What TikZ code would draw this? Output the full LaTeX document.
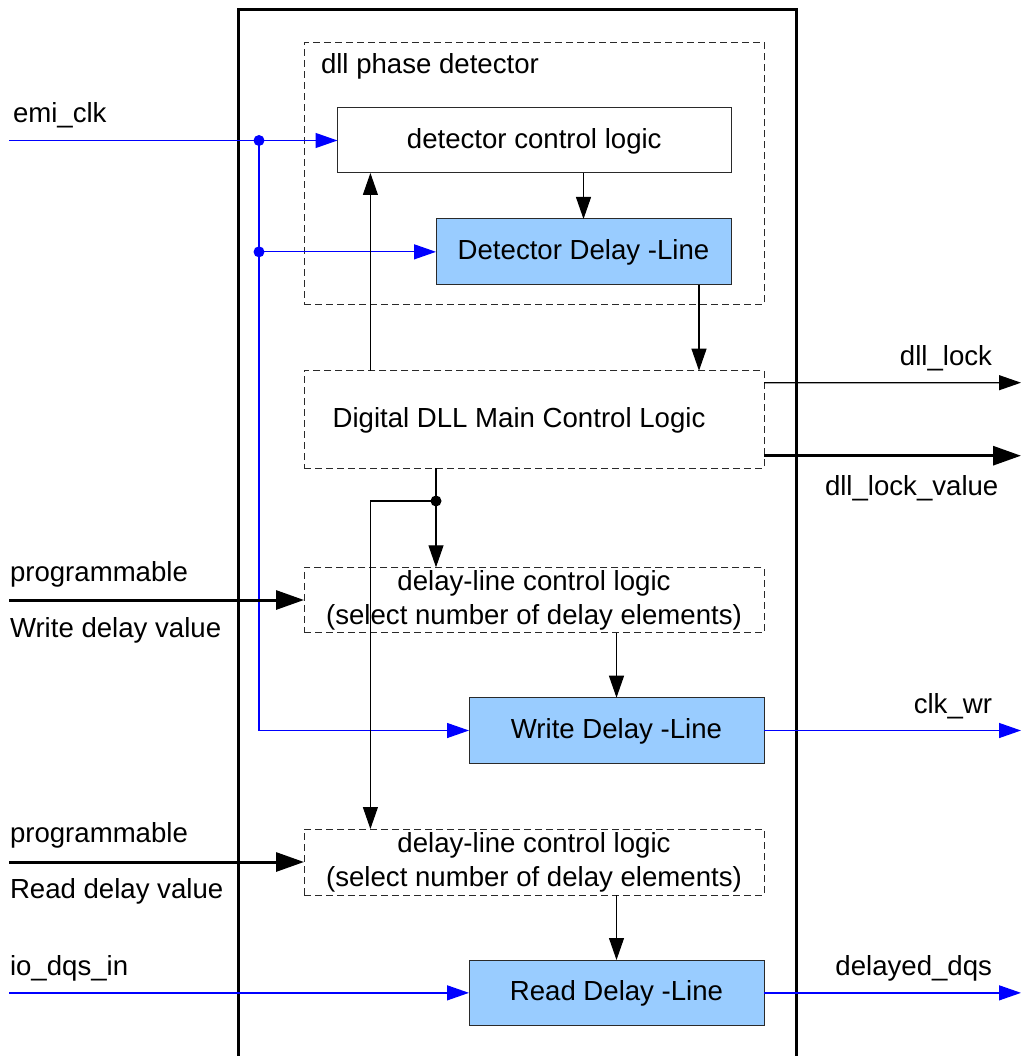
\documentclass[tikz,border=0pt]{standalone}
\usepackage{fontspec}
\setmainfont{Liberation Sans}
\usetikzlibrary{arrows.meta,calc}
\definecolor{lblue}{HTML}{99CCFF}
\definecolor{bdr}{HTML}{2A2A2A}
\begin{document}
\begin{tikzpicture}[x=1pt,y=-1pt,
  txt/.style={font=\fontsize{27.6pt}{34pt}\selectfont, inner sep=0pt, outer sep=0pt},
  box/.style={draw=bdr, line width=1pt, rectangle, inner sep=0pt, outer sep=0pt, txt},
  onebox/.style={box, text height=20pt, text depth=4pt},
  dbox/.style={box, dash pattern=on 7pt off 4pt},
  bbox/.style={onebox, fill=lblue},
  wire/.style={line width=1.1pt},
  bwire/.style={blue, line width=1.3pt},
  twire/.style={line width=3pt},
  tip/.style={-{Triangle[length=22pt,width=15pt]}},
  ttip/.style={-{Triangle[length=28pt,width=19pt]}},
  dot/.style={circle, fill, inner sep=0pt, minimum size=11pt}]
\useasboundingbox (0,0) rectangle (1021,1056);

% outer chip boundary
\draw[line width=3pt] (238,1060) -- (238,10) -- (796,10) -- (796,1060);

% boxes
\node[dbox, minimum width=460pt, minimum height=261.6pt] (pd) at (534,173.5) {};
\node[txt, anchor=base west] (pdlabel) at (321,74) {dll phase detector};
\node[onebox, fill=white, minimum width=393.5pt, minimum height=65pt] (dcl) at (534.25,140.5) {detector control logic};
\node[bbox, minimum width=295pt, minimum height=65.7pt] (ddl) at (583.5,251.85) {Detector Delay -Line};
\node[dbox, minimum width=460pt, minimum height=97.3pt] (main) at (534,419.35) {};
\node[txt, anchor=base] (maintxt) at (519,427) {Digital DLL Main Control Logic};
\node[dbox, minimum width=460pt, minimum height=65.4pt, align=center] (dlc1) at (534,600) {delay-line control logic\\(select number of delay elements)};
\node[bbox, minimum width=295pt, minimum height=65.6pt] (wdl) at (616.5,730.5) {Write Delay -Line};
\node[dbox, minimum width=460pt, minimum height=66pt, align=center] (dlc2) at (534,862) {delay-line control logic\\(select number of delay elements)};
\node[bbox, minimum width=295pt, minimum height=65.7pt] (rdl) at (616.5,992.85) {Read Delay -Line};

% helper coordinates
\coordinate (ux) at (370.4,0);
\coordinate (dx) at (699,0);
\coordinate (emiin) at (9,140.5);
\coordinate (wdin) at (9,600);
\coordinate (rdin) at (9,862);
\coordinate (dqsin) at (9,992.85);
\coordinate (lockend) at (1021,382.7);
\coordinate (lvend) at (1021,455.7);
\coordinate (clkend) at (1021,730.5);
\coordinate (dqsend) at (1021,992.85);

% junction dots
\node[dot, blue] (j1) at (259,140.5) {};
\node[dot, blue] (j2) at (259,251.85) {};
\node[dot] (j3) at (436,501) {};

% emi_clk distribution
\draw[bwire,tip] (emiin) -- (dcl.west);
\draw[bwire,tip] (j1.center) |- (wdl.west);
\draw[bwire,tip] (j2.center) -- (ddl.west);

% phase detector internal
\draw[wire,tip] (dcl.south -| ddl.north) -- (ddl.north);
\draw[wire,tip] (main.north -| ux) -- (dcl.south -| ux);
\draw[wire,tip] (ddl.south -| dx) -- (main.north -| dx);

% main control outputs
\draw[wire] (main.south -| j3) -- (j3.center);
\draw[wire,tip] (j3.center) -- (dlc1.north -| j3);
\draw[wire,tip] (j3.center) -| (dlc2.north -| ux);
\draw[wire,tip] ($(main.north east)+(0,12)$) -- (lockend);
\draw[twire,ttip] ($(main.south east)+(0,-12.3)$) -- (lvend);

% write path
\draw[twire,ttip] (wdin) -- (dlc1.west);
\draw[wire,tip] (dlc1.south -| wdl.north) -- (wdl.north);
\draw[bwire,tip] (wdl.east) -- (clkend);

% read path
\draw[twire,ttip] (rdin) -- (dlc2.west);
\draw[wire,tip] (dlc2.south -| rdl.north) -- (rdl.north);
\draw[bwire,tip] (dqsin) -- (rdl.west);
\draw[bwire,tip] (rdl.east) -- (dqsend);

% labels
\node[txt, anchor=base west] (lemi) at (13,123) {emi\_clk};
\node[txt, anchor=base west] (lpw) at (10,581) {programmable};
\node[txt, anchor=base west] (lwd) at (10,637) {Write delay value};
\node[txt, anchor=base west] (lpr) at (10,842) {programmable};
\node[txt, anchor=base west] (lrd) at (10,898) {Read delay value};
\node[txt, anchor=base west] (ldqs) at (10,975) {io\_dqs\_in};
\node[txt, anchor=base east] (llock) at (992,365) {dll\_lock};
\node[txt, anchor=base west] (llv) at (825,495) {dll\_lock\_value};
\node[txt, anchor=base east] (lclk) at (992,713) {clk\_wr};
\node[txt, anchor=base east] (ldd) at (992,975) {delayed\_dqs};
\end{tikzpicture}
\end{document}
